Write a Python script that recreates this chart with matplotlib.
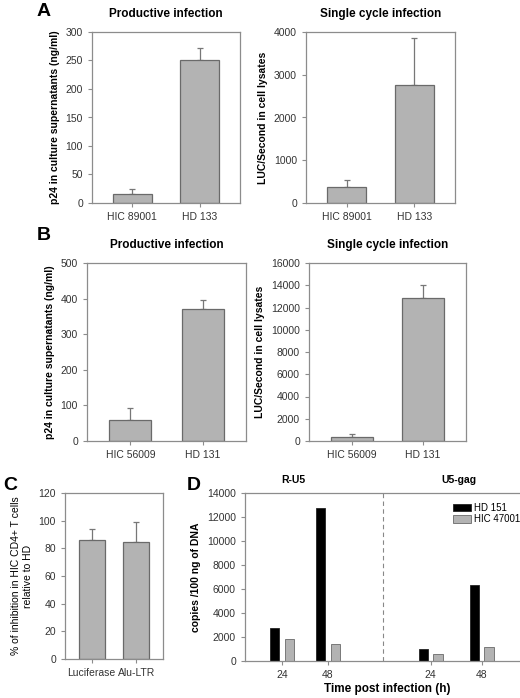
import matplotlib
matplotlib.use("Agg")
import matplotlib.pyplot as plt
import numpy as np

plt.rcParams["font.family"] = ["Liberation Sans", "DejaVu Sans"]

W, H = 520, 698

# panel A
a_labels = ["HIC 89001", "HD 133"]
a_p24 = [15, 250]
a_p24_err = [10, 22]
a_luc = [370, 2750]
a_luc_err = [160, 1100]

# panel B
b_labels = ["HIC 56009", "HD 131"]
b_p24 = [58, 370]
b_p24_err = [34, 27]
b_luc = [400, 12850]
b_luc_err = [200, 1200]

# panel C
c_labels = ["Luciferase", "Alu-LTR"]
c_inhib = [86, 84.5]
c_inhib_err = [8, 14.5]

# panel D
d_ticks = ["24", "48", "24", "48"]
d_groups = ["R-U5", "U5-gag"]
d_hd151 = [2750, 12750, 1000, 6350]
d_hic47001 = [1800, 1450, 600, 1200]

BAR = "#b3b3b3"
EDGE = "#6a6a6a"
SPINE = "#8c8c8c"
TXT = "#333333"


def box(x0, y0, x1, y1):
    return [x0 / W, (H - y1) / H, (x1 - x0) / W, (y1 - y0) / H]


def style(ax):
    for s in ax.spines.values():
        s.set_color(SPINE)
        s.set_linewidth(0.9)
    ax.tick_params(axis="both", colors=SPINE, labelcolor=TXT, labelsize=7.5,
                   length=3, width=0.8, direction="out")
    ax.tick_params(axis="x", top=False)
    ax.tick_params(axis="y", right=False)


def bars(ax, labels, vals, errs, ymax, ystep, ylabel, title=None, bold=True):
    x = np.arange(len(labels))
    ax.bar(x, vals, width=0.58, color=BAR, edgecolor=EDGE, linewidth=0.9, zorder=2)
    ax.errorbar(x, vals, yerr=[np.zeros(len(errs)), errs], fmt="none",
                ecolor="#777777", elinewidth=0.9, capsize=2.5, capthick=0.9, zorder=1)
    ax.set_xlim(-0.6, 1.6)
    ax.set_ylim(0, ymax)
    ax.set_yticks(np.arange(0, ymax + 1, ystep))
    ax.set_xticks(x)
    ax.set_xticklabels(labels)
    ax.set_ylabel(ylabel, fontsize=7.5,
                  fontweight="bold" if bold else "normal", color="black")
    if title:
        ax.set_title(title, fontsize=8.5, fontweight="bold", pad=11)
    style(ax)


fig = plt.figure(figsize=(W / 100, H / 100), dpi=100)

ax = fig.add_axes(box(92, 32, 240, 203))
bars(ax, a_labels, a_p24, a_p24_err, 300, 50,
     "p24 in culture supernatants (ng/ml)", "Productive infection")
ax = fig.add_axes(box(306, 32, 455, 203))
bars(ax, a_labels, a_luc, a_luc_err, 4000, 1000,
     "LUC/Second in cell lysates", "Single cycle infection")

ax = fig.add_axes(box(87, 263, 246, 441))
bars(ax, b_labels, b_p24, b_p24_err, 500, 100,
     "p24 in culture supernatants (ng/ml)", "Productive infection")
ax = fig.add_axes(box(309, 263, 466, 441))
bars(ax, b_labels, b_luc, b_luc_err, 16000, 2000,
     "LUC/Second in cell lysates", "Single cycle infection")

ax = fig.add_axes(box(65, 493, 163, 659))
bars(ax, c_labels, c_inhib, c_inhib_err, 120, 20,
     "% of inhibition in HIC CD4+ T cells\nrelative to HD", bold=False)

# panel D
ax = fig.add_axes(box(245, 493, 530, 661))
pos = np.array([0, 1, 3.24, 4.35])
off = 0.16
ax.bar(pos - off, d_hd151, width=0.2, color="black", edgecolor="#222222",
       linewidth=0.6, label="HD 151")
ax.bar(pos + off, d_hic47001, width=0.2, color=BAR, edgecolor=EDGE,
       linewidth=0.6, label="HIC 47001")
ax.axvline(2.2, color="#888888", linestyle=(0, (4, 3)), linewidth=0.8)
ax.set_xlim(-0.8, 5.4)
ax.set_ylim(0, 14000)
ax.set_yticks(np.arange(0, 14001, 2000))
ax.set_xticks(pos)
ax.set_xticklabels(d_ticks)
ax.set_xlabel("Time post infection (h)", fontsize=8.5, fontweight="bold", labelpad=2)
ax.set_ylabel("copies /100 ng of DNA", fontsize=7.5, fontweight="bold")
ax.text(0.25, 1.05, d_groups[0], transform=ax.get_xaxis_transform(),
        ha="center", va="bottom", fontsize=7.5, fontweight="bold")
ax.text(3.85, 1.05, d_groups[1], transform=ax.get_xaxis_transform(),
        ha="center", va="bottom", fontsize=7.5, fontweight="bold")
style(ax)
ax.legend(loc="upper left", bbox_to_anchor=(453 / W, 1 - 503 / H),
          bbox_transform=fig.transFigure, frameon=False, fontsize=7,
          handlelength=1.8, handleheight=0.8, handletextpad=0.4,
          labelspacing=0.15, borderaxespad=0, borderpad=0)

for letter, x, y in [("A", 44, 11), ("B", 44, 235), ("C", 10, 485), ("D", 194, 485)]:
    fig.text(x / W, 1 - y / H, letter, fontsize=14, fontweight="bold",
             ha="center", va="center")

fig.savefig("out.png", dpi=100)
